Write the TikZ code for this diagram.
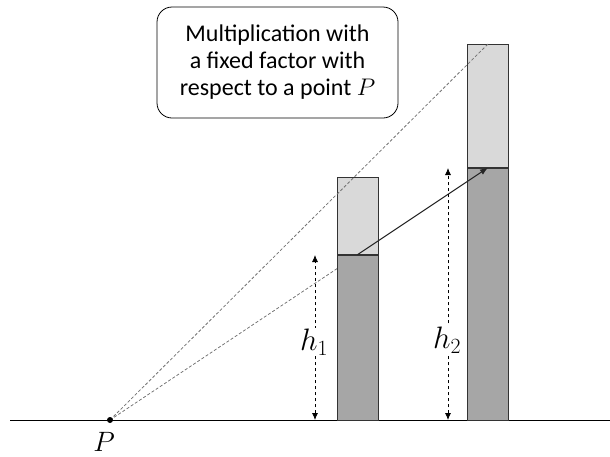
\RequirePackage{fix-cm}
\documentclass[tikz,border=0pt]{standalone}
\usepackage{fontspec}
\setmainfont{Carlito}
\usetikzlibrary{arrows.meta}
\begin{document}
\begin{tikzpicture}[
  x=1pt, y=-1pt,
  bar/.style={draw=black!80, line width=0.7pt, minimum width=41pt, inner sep=0pt},
  lower/.style={bar, fill=black!35},
  upper/.style={bar, fill=black!15},
  ray/.style={densely dashed, black!55, line width=0.8pt},
  dim/.style={dashed, line width=0.8pt, {Latex[length=7pt,width=6pt]}-{Latex[length=7pt,width=6pt]}},
  arrow/.style={-{Latex[length=8pt,width=6pt]}, line width=1pt, black!85},
  lab/.style={font=\fontsize{31}{36}\selectfont, fill=white, inner sep=1pt}
]
\useasboundingbox (0,0) rectangle (610,456);
\draw[line width=0.9pt] (10,420) -- (610,420);
\coordinate (P) at (110,420);
\coordinate (s1) at (357.5,255);
\draw[ray] (P) -- (s1);
\node (low1) [lower, minimum height=165pt] at (357.5,337.5) {};
\node (low2) [lower, minimum height=252pt] at (488,294) {};
\node (top1) [upper, minimum height=77pt, anchor=south] at (low1.north) {};
\node (top2) [upper, minimum height=123pt, anchor=south] at (low2.north) {};
\draw[ray] (P) -- (top2.north);
\draw[arrow] (low1.north) -- (low2.north);
\fill (P) circle (3pt);
\node (plab) [font=\fontsize{28}{32}\selectfont, inner sep=0pt] at (104,442) {$P$};
\coordinate (h1b) at (315,420);
\coordinate (h1t) at (315,255);
\coordinate (h2b) at (448,420);
\coordinate (h2t) at (448,168);
\draw[dim] (h1b) -- (h1t);
\draw[dim] (h2b) -- (h2t);
\node (h1) [lab] at (314,342) {$h_1$};
\node (h2) [lab] at (447,340) {$h_2$};
\node (note) [draw, line width=0.8pt, rounded corners=15pt, minimum width=241pt, minimum height=111pt, align=center,
  font=\fontsize{24}{27}\selectfont] at (277.5,62.5) {Multiplication with\\a fixed factor with\\respect to a point $P$};
\end{tikzpicture}
\end{document}
